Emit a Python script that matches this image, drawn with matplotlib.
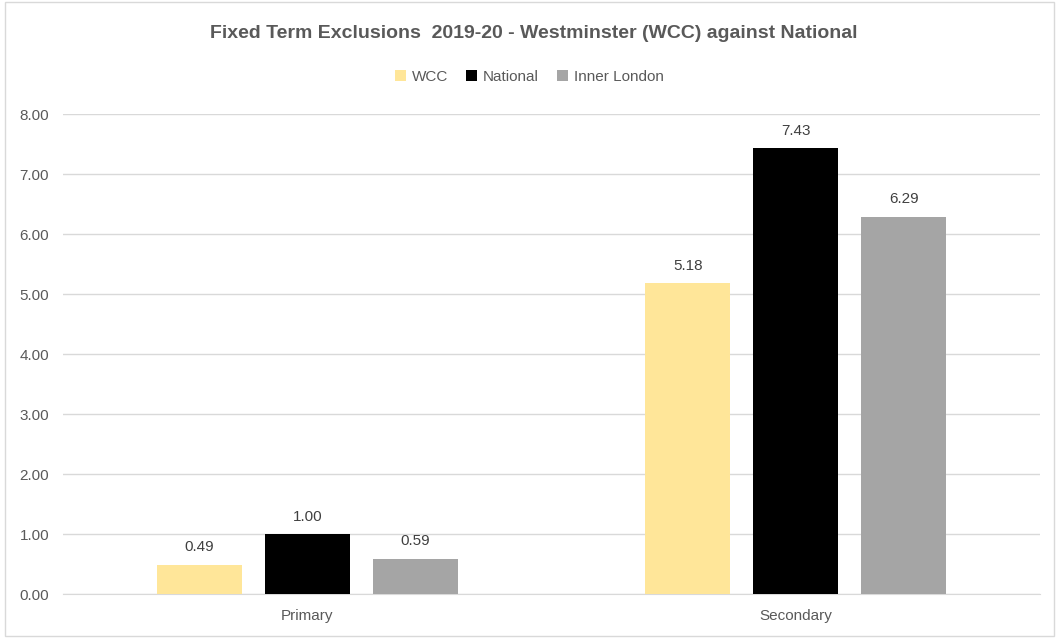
import matplotlib.pyplot as plt
from matplotlib.patches import Rectangle
import numpy as np

categories = ["Primary", "Secondary"]
series = ["WCC", "National", "Inner London"]
wcc = [0.49, 5.18]
national = [1.00, 7.43]
inner_london = [0.59, 6.29]
colors = ["#FFE699", "#000000", "#A5A5A5"]

plt.rcParams['font.family'] = ['Liberation Sans', 'DejaVu Sans']

fig = plt.figure(figsize=(10.59, 6.40), dpi=100)
ax = fig.add_axes([63/1059, 46/640, 977/1059, 480/640])

# chart border
fig.patches.append(Rectangle((5/1059, 4/640), 1049/1059, 634/640, transform=fig.transFigure,
                             fill=False, edgecolor="#d9d9d9", linewidth=1))

x = np.arange(len(categories))
step = 0.221
width = 0.174
for i, (name, vals) in enumerate(zip(series, [wcc, national, inner_london])):
    pos = x + (i - 1) * step
    bars = ax.bar(pos, vals, width, color=colors[i], label=name, zorder=3)
    for b, v in zip(bars, vals):
        ax.text(b.get_x() + b.get_width() / 2, v + 0.17, f"{v:.2f}", ha="center", va="bottom",
                fontsize=11, color="#404040")

ax.set_xlim(-0.5, 1.5)
ax.set_ylim(0, 8)
ax.set_yticks(np.arange(0, 9, 1))
ax.set_yticklabels([f"{t:.2f}" for t in range(9)])
ax.set_xticks(x)
ax.set_xticklabels(categories)
ax.tick_params(axis="both", length=0, labelsize=11, labelcolor="#595959")
ax.tick_params(axis="y", pad=10)
ax.tick_params(axis="x", pad=11)
ax.grid(axis="y", color="#d9d9d9", linewidth=1, zorder=0)
for s in ["top", "right", "left"]:
    ax.spines[s].set_visible(False)
ax.spines["bottom"].set_color("#d9d9d9")

fig.text(534/1059, 1 - 34/640, "Fixed Term Exclusions  2019-20 - Westminster (WCC) against National",
         ha="center", va="center", fontsize=14, fontweight="bold", color="#595959")
leg = ax.legend(loc="center", bbox_to_anchor=(0.5, 1 - 77/640), bbox_transform=fig.transFigure,
                ncol=3, frameon=False, fontsize=11, handlelength=0.7, handleheight=0.7,
                handletextpad=0.4, columnspacing=1.2)
for t in leg.get_texts():
    t.set_color("#595959")

fig.savefig("out.png", dpi=100)
